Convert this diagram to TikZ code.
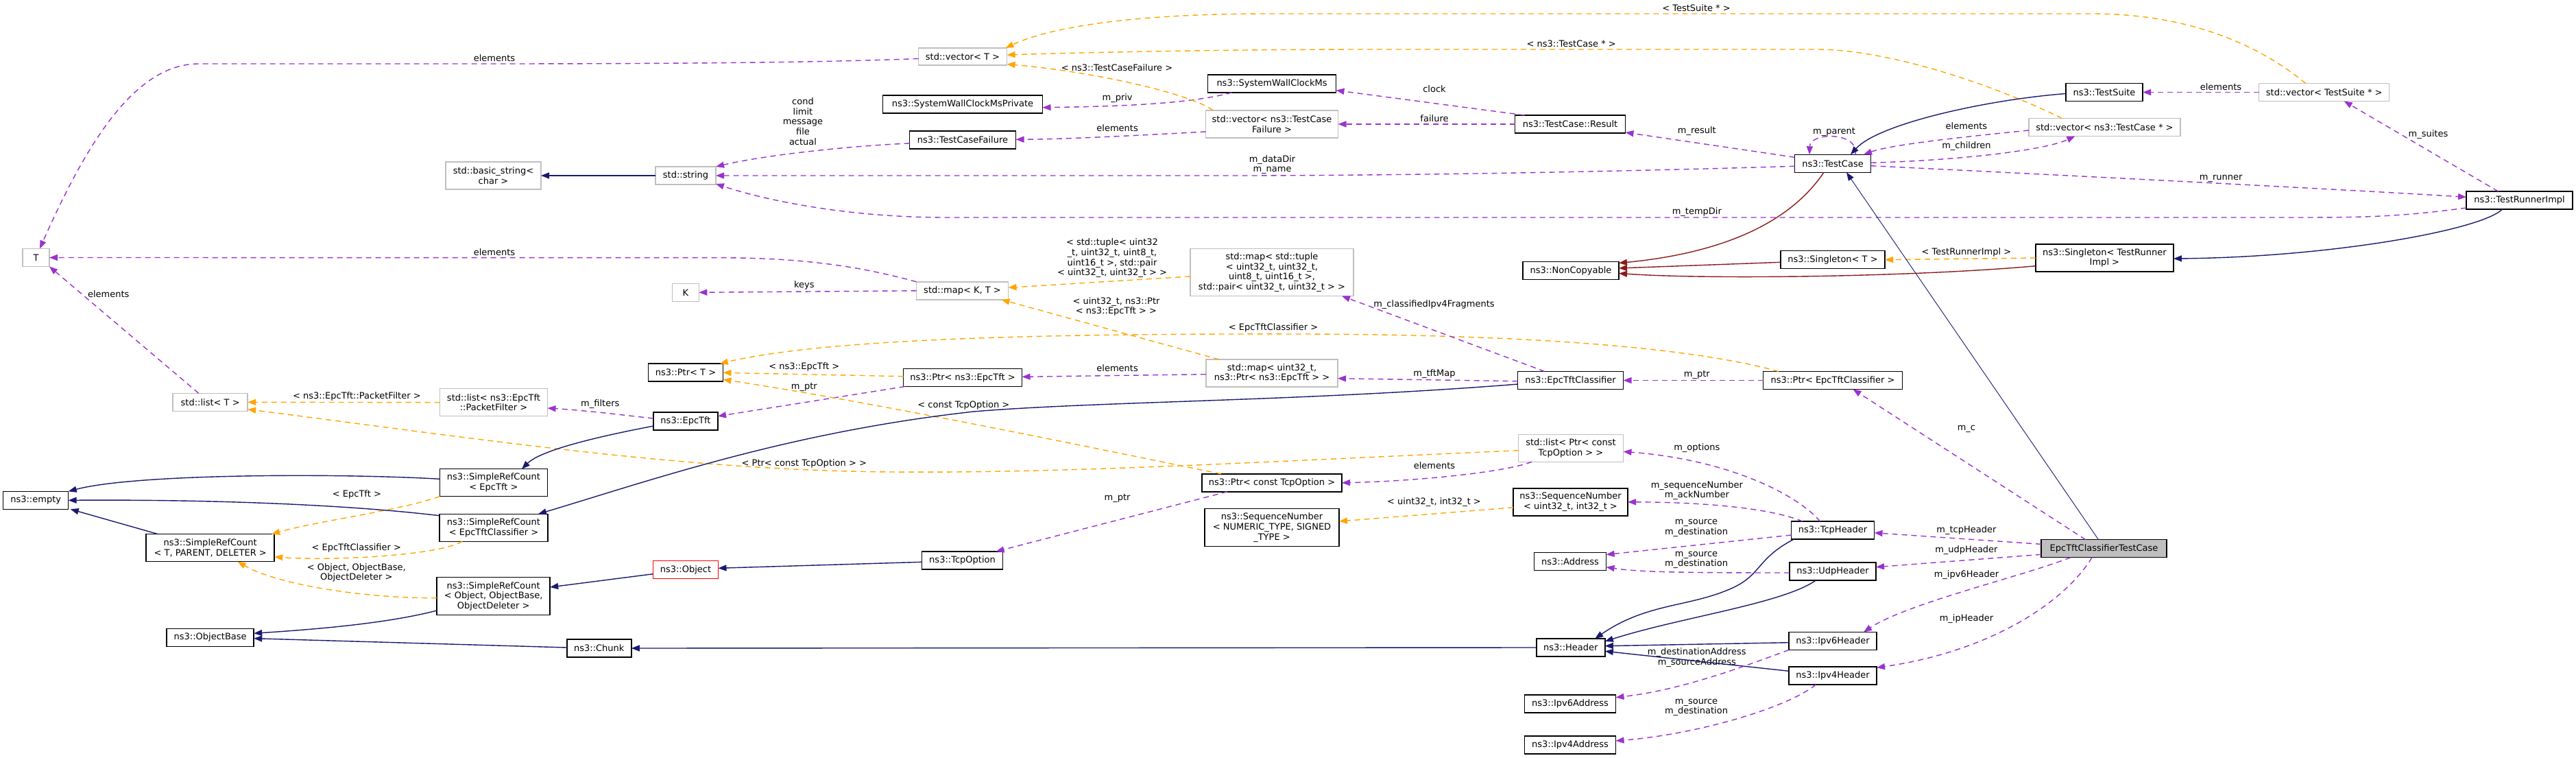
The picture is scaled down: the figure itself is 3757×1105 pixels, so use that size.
\documentclass[tikz,border=0pt]{standalone}
\usepackage{fontspec}
\setmainfont{DejaVu Sans}
\usetikzlibrary{arrows.meta}
\definecolor{usecol}{HTML}{9A32CD}
\definecolor{tplcol}{HTML}{FFA500}
\definecolor{inhcol}{HTML}{191970}
\definecolor{privcol}{HTML}{8B1A1A}
\definecolor{graybd}{HTML}{BFBFBF}
\tikzset{
  every node/.style={font=\fontsize{13pt}{14.75pt}\selectfont, align=center, inner sep=0pt, outer sep=0pt},
  box/.style={draw=black, line width=1.5pt, fill=white, minimum height=26pt},
  gbox/.style={draw=graybd, line width=1.5pt, fill=white, minimum height=26pt},
  rbox/.style={draw=red, line width=1.5pt, fill=white, minimum height=26pt},
  usage/.style={draw=usecol, line width=1.4pt, dash pattern=on 8pt off 6pt, -{Triangle[length=12pt,width=9pt]}},
  tpl/.style={draw=tplcol, line width=1.4pt, dash pattern=on 8pt off 6pt, -{Triangle[length=12pt,width=9pt]}},
  inh/.style={draw=inhcol, line width=1.4pt, -{Triangle[length=12pt,width=9pt]}},
  priv/.style={draw=privcol, line width=1.4pt, -{Triangle[length=12pt,width=9pt]}}
}
\begin{document}
\begin{tikzpicture}[x=1pt,y=-1pt]
\useasboundingbox (0,0) rectangle (3757,1105);
% nodes
\node[gbox, minimum width=39pt] (T) at (52.5,375.5) {T};
\node[gbox, minimum width=139pt, minimum height=40pt] (basicstr) at (719.5,256) {std::basic\_string<\\char >};
\node[gbox, minimum width=129pt, minimum height=25pt] (vecT) at (1404,82.5) {std::vector< T >};
\node[box, minimum width=233pt] (swcmp) at (1404,152) {ns3::SystemWallClockMsPrivate};
\node[box, minimum width=155pt] (tcf) at (1404,204) {ns3::TestCaseFailure};
\node[gbox, minimum width=88pt] (stdstr) at (1000,256) {std::string};
\node[box, minimum width=187pt] (swcm) at (1855,122) {ns3::SystemWallClockMs};
\node[gbox, minimum width=193pt, minimum height=40pt] (vtcf) at (1855,181) {std::vector< ns3::TestCase\\Failure >};
\node[box, minimum width=161pt] (result) at (2290,181) {ns3::TestCase::Result};
\node[box, minimum width=111pt] (testcase) at (2673,238.3) {ns3::TestCase};
\node[box, minimum width=152pt] (singT) at (2673,378.7) {ns3::Singleton< T >};
\node[box, minimum width=140pt] (noncopy) at (2291,394.5) {ns3::NonCopyable};
\node[box, minimum width=112pt] (testsuite) at (3069,134.5) {ns3::TestSuite};
\node[gbox, minimum width=190pt] (vts) at (3389.7,134.5) {std::vector< TestSuite * >};
\node[gbox, minimum width=221pt] (vtc) at (3069.4,185.5) {std::vector< ns3::TestCase * >};
\node[box, minimum width=155pt] (runner) at (3674.5,292) {ns3::TestRunnerImpl};
\node[box, minimum width=201pt, minimum height=40pt] (singTRI) at (3069.4,376) {ns3::Singleton< TestRunner\\Impl >};
\node[gbox, minimum width=109pt] (listT) at (306.7,586.3) {std::list< T >};
\node[gbox, minimum width=157pt, minimum height=40pt] (listPF) at (720,586.7) {std::list< ns3::EpcTft\\::PacketFilter >};
\node[box, minimum width=157pt, minimum height=40pt] (srcEpcTft) at (720,703.7) {ns3::SimpleRefCount\\< EpcTft >};
\node[box, minimum width=95pt] (empty) at (52.2,729.3) {ns3::empty};
\node[gbox, minimum width=39pt] (K) at (999.8,426.3) {K};
\node[gbox, minimum width=134pt] (mapKT) at (1403.5,423.8) {std::map< K, T >};
\node[gbox, minimum width=238pt, minimum height=69pt] (mapTuple) at (1855,397) {std::map< std::tuple\\< uint32\_t, uint32\_t,\\uint8\_t, uint16\_t >,\\std::pair< uint32\_t, uint32\_t > >};
\node[box, minimum width=109pt] (ptrT) at (1000,543) {ns3::Ptr< T >};
\node[box, minimum width=173pt] (ptrEpcTft) at (1404,550.5) {ns3::Ptr< ns3::EpcTft >};
\node[gbox, minimum width=192pt, minimum height=40pt] (mapU) at (1855,544) {std::map< uint32\_t,\\ns3::Ptr< ns3::EpcTft > >};
\node[box, minimum width=94pt] (epctft) at (1000,614) {ns3::EpcTft};
\node[box, minimum width=204pt] (ptrTcp) at (1855,703.8) {ns3::Ptr< const TcpOption >};
\node[box, minimum width=154pt] (classifier) at (2290.5,554.5) {ns3::EpcTftClassifier};
\node[box, minimum width=203pt] (ptrCls) at (2673,554.5) {ns3::Ptr< EpcTftClassifier >};
\node[gbox, minimum width=153pt, minimum height=40pt] (listTcp) at (2291,653.3) {std::list< Ptr< const\\TcpOption > >};
\node[box, minimum width=167pt, minimum height=40pt] (seqU) at (2290.5,731.8) {ns3::SequenceNumber\\< uint32\_t, int32\_t >};
\node[box, minimum width=196pt, minimum height=55pt] (seqN) at (1855,769) {ns3::SequenceNumber\\< NUMERIC\_TYPE, SIGNED\\\_TYPE >};
\node[box, minimum width=118pt] (tcpopt) at (1403.5,817) {ns3::TcpOption};
\node[rbox, minimum width=95pt] (object) at (1000,830.5) {ns3::Object};
\node[box, minimum width=94pt] (chunk) at (873.8,945) {ns3::Chunk};
\node[box, minimum width=158pt, minimum height=40pt] (srcCls) at (720,769.3) {ns3::SimpleRefCount\\< EpcTftClassifier >};
\node[box, minimum width=187pt, minimum height=40pt] (srcT) at (306.7,798.7) {ns3::SimpleRefCount\\< T, PARENT, DELETER >};
\node[box, minimum width=165pt, minimum height=55pt] (srcObj) at (719.7,869.2) {ns3::SimpleRefCount\\< Object, ObjectBase,\\ObjectDeleter >};
\node[box, minimum width=127pt] (objbase) at (306.7,929.3) {ns3::ObjectBase};
\node[box, minimum width=121pt] (tcph) at (2673,773) {ns3::TcpHeader};
\node[box, minimum width=105pt] (address) at (2290,818.5) {ns3::Address};
\node[box, minimum width=126pt] (udph) at (2673,833) {ns3::UdpHeader};
\node[box, minimum width=100pt] (header) at (2290.8,944) {ns3::Header};
\node[box, minimum width=128pt] (ipv6h) at (2673,934.5) {ns3::Ipv6Header};
\node[box, minimum width=128pt] (ipv4h) at (2673,985) {ns3::Ipv4Header};
\node[box, minimum width=133pt] (ipv6a) at (2290,1026) {ns3::Ipv6Address};
\node[box, minimum width=133pt] (ipv4a) at (2290,1086) {ns3::Ipv4Address};
\node[box, fill=graybd, minimum width=183pt] (ectc) at (3068.5,799.7) {EpcTftClassifierTestCase};
% labels
\node (l1) at (721,85) {elements};
\node (l2) at (721,368) {elements};
\node (l3) at (158.3,429) {elements};
\node (l4) at (1171,177) {cond\\limit\\message\\file\\actual};
\node (l5) at (1629,99) {< ns3::TestCaseFailure >};
\node (l6) at (1629.6,142.7) {m\_priv};
\node (l7) at (1629.6,187) {elements};
\node (l8) at (1855.5,240) {m\_dataDir\\m\_name};
\node (l9) at (2474.8,309) {m\_tempDir};
\node (l10) at (2474,11.7) {< TestSuite * >};
\node (l11) at (2291.7,63.3) {< ns3::TestCase * >};
\node (l12) at (2092,130) {clock};
\node (l13) at (2092,172.7) {failure};
\node (l14) at (2474.8,190.7) {m\_result};
\node (l15) at (2675,192.7) {m\_parent};
\node (l16) at (3239,126.7) {elements};
\node (l17) at (2867.9,183.3) {elements};
\node (l18) at (2867.9,212.7) {m\_children};
\node (l19) at (3541.4,196) {m\_suites};
\node (l20) at (3239.2,260) {m\_runner};
\node (l21) at (2867.9,368.3) {< TestRunnerImpl >};
\node (l22) at (2867.9,625) {m\_c};
\node (l23) at (520.4,578.3) {< ns3::EpcTft::PacketFilter >};
\node (l24) at (875.3,589) {m\_filters};
\node (l25) at (520.4,720.7) {< EpcTft >};
\node (l26) at (1172.8,415.7) {keys};
\node (l27) at (1622,376.4) {< std::tuple< uint32\\\_t, uint32\_t, uint8\_t,\\uint16\_t >, std::pair\\< uint32\_t, uint32\_t > >};
\node (l28) at (1628,447) {< uint32\_t, ns3::Ptr\\< ns3::EpcTft > >};
\node (l29) at (1857,478.3) {< EpcTftClassifier >};
\node (l30) at (1172.8,535) {< ns3::EpcTft >};
\node (l31) at (1172.8,564) {m\_ptr};
\node (l32) at (1629.6,536.7) {elements};
\node (l33) at (1405.4,590.7) {< const TcpOption >};
\node (l34) at (1172.8,675.7) {< Ptr< const TcpOption > >};
\node (l35) at (1629.6,726.7) {m\_ptr};
\node (l36) at (2091.5,443.7) {m\_classifiedIpv4Fragments};
\node (l37) at (2092,545.3) {m\_tftMap};
\node (l38) at (2474.8,546.7) {m\_ptr};
\node (l39) at (2474.8,652.7) {m\_options};
\node (l40) at (2092,678.3) {elements};
\node (l41) at (2474.8,715) {m\_sequenceNumber\\m\_ackNumber};
\node (l42) at (2091.5,732.3) {< uint32\_t, int32\_t >};
\node (l43) at (2474,770) {m\_source\\m\_destination};
\node (l44) at (2474,816.3) {m\_source\\m\_destination};
\node (l45) at (2474.8,958.8) {m\_destinationAddress\\m\_sourceAddress};
\node (l46) at (2474,1031.3) {m\_source\\m\_destination};
\node (l47) at (2867.9,772.7) {m\_tcpHeader};
\node (l48) at (2867.9,802.3) {m\_udpHeader};
\node (l49) at (2867.9,838.3) {m\_ipv6Header};
\node (l50) at (2867.9,902.3) {m\_ipHeader};
\node (l51) at (519.8,799.3) {< EpcTftClassifier >};
\node (l52) at (519.8,835) {< Object, ObjectBase,\\ObjectDeleter >};
% edges
\draw[usage] ([yshift=-3pt]vecT.west) .. controls (1200,91) and (1000,93) .. (700,93) -- (290,93) .. controls (200,93) and (130,200) .. ([xshift=5.5pt]T.north);
\draw[inh] (stdstr.west) -- (basicstr.east);
\draw[usage] ([yshift=-5pt]tcf.west) .. controls (1250,212) and (1120,225) .. (stdstr.north east);
\draw[usage] ([yshift=-4pt]testcase.west) .. controls (2300,252) and (2000,256) .. (1800,256) -- (stdstr.east);
\draw[usage] ([yshift=-11pt]runner.west) .. controls (3500,316) and (3450,317) .. (3350,317) -- (1380,317) .. controls (1230,317) and (1110,290) .. ([yshift=-12pt]stdstr.east);
\draw[usage] ([xshift=35pt]swcm.south west) .. controls (1740,150) and (1650,155) .. ([yshift=-4.7pt]swcmp.east);
\draw[usage] ([yshift=-11pt]vtcf.west) .. controls (1650,198) and (1550,203) .. ([yshift=0.7pt]tcf.east);
\draw[tpl] ([xshift=-86pt]vtcf.north) .. controls (1740,138) and (1600,105) .. ([yshift=1.5pt]vecT.south east);
\draw[tpl] ([xshift=-62pt]vtc.north) .. controls (2900,120) and (2750,72) .. (2650,72) -- (2000,72) .. controls (1800,72) and (1600,76) .. ([yshift=2.5pt]vecT.east);
\draw[tpl] ([xshift=-27pt]vts.north) .. controls (3300,70) and (3200,20) .. (3050,20) -- (1850,20) .. controls (1650,20) and (1530,40) .. ([xshift=-2pt]vecT.north east);
\draw[usage] ([xshift=14pt]result.north west) -- ([yshift=-9.7pt]swcm.east);
\draw[usage] (result.west) -- (vtcf.east);
\draw[usage] ([yshift=9pt]testcase.west) -- ([yshift=1pt]result.south east);
\draw[usage] ([xshift=33pt]testcase.north) .. controls (2712,192) and (2640,192) .. ([xshift=-34pt]testcase.north);
\draw[inh] ([yshift=-2pt]testsuite.west) .. controls (2900,145) and (2740,180) .. ([xshift=26pt]testcase.north);
\draw[usage] ([yshift=-4.5pt]vtc.west) .. controls (2880,198) and (2760,210) .. ([xshift=45pt]testcase.north);
\draw[usage] ([yshift=1pt]testcase.east) .. controls (2850,234) and (2980,220) .. ([xshift=-43pt]vtc.south);
\draw[usage] ([yshift=-3.4pt]testcase.east) .. controls (2900,250) and (3400,275) .. ([yshift=4.7pt]runner.west);
\draw[usage] (vts.west) -- (testsuite.east);
\draw[usage] ([xshift=-31pt]runner.north) -- ([xshift=29pt]vts.south);
\draw[inh] ([xshift=-25pt]runner.south) .. controls (3620,335) and (3400,375) .. ([yshift=-1pt]singTRI.east);
\draw[tpl] (singTRI.west) -- (singT.east);
\draw[priv] ([yshift=-3.6pt]singT.west) -- ([yshift=3.5pt]noncopy.east);
\draw[priv] ([xshift=-13pt]testcase.south) .. controls (2600,340) and (2480,372) .. ([yshift=11pt]noncopy.east);
\draw[priv] ([yshift=-11.7pt]singTRI.west) .. controls (2800,403) and (2500,408) .. ([yshift=-4pt]noncopy.east);
\draw[inh, line width=0.9pt] ([xshift=-8pt]ectc.north) -- ([xshift=20pt]testcase.south);
\draw[usage] (mapKT.north west) .. controls (1260,390) and (1180,376) .. (1050,375.7) -- (T.east);
\draw[usage] (mapKT.west) -- (K.east);
\draw[tpl] ([yshift=-6pt]mapTuple.west) -- ([yshift=4.5pt]mapKT.east);
\draw[tpl] ([xshift=-77pt]mapU.north) -- ([xshift=-10pt]mapKT.south east);
\draw[usage] ([xshift=-17pt]listT.north) -- (T.south east);
\draw[tpl] (listPF.west) -- (listT.east);
\draw[tpl] ([yshift=-3.4pt]listTcp.west) .. controls (1800,675) and (1550,690) .. (1300,688) .. controls (1000,686) and (700,640) .. ([yshift=-10.4pt]listT.east);
\draw[usage] ([yshift=4pt]epctft.west) .. controls (900,604) and (850,598) .. ([yshift=-8.3pt]listPF.east);
\draw[inh] ([yshift=-7pt]epctft.west) .. controls (880,635) and (790,655) .. ([xshift=41pt]srcEpcTft.north);
\draw[tpl] ([yshift=1.8pt]ptrEpcTft.west) -- ([yshift=-0.3pt]ptrT.east);
\draw[usage] ([xshift=2pt]ptrEpcTft.south west) -- ([yshift=7.3pt]epctft.east);
\draw[usage] ([yshift=-1.7pt]mapU.west) -- ([yshift=1.2pt]ptrEpcTft.east);
\draw[tpl] ([xshift=-79pt]ptrCls.north) .. controls (2500,515) and (2300,488) .. (1900,487) .. controls (1500,486) and (1200,495) .. ([xshift=-4.8pt]ptrT.north east);
\draw[tpl] ([xshift=-74pt]ptrTcp.north) .. controls (1700,675) and (1300,590) .. ([yshift=-10.3pt]ptrT.east);
\draw[usage] ([yshift=-1.2pt]classifier.west) -- ([yshift=-7.7pt]mapU.east);
\draw[usage] ([xshift=-37.7pt]classifier.north) -- ([xshift=-17pt]mapTuple.south east);
\draw[usage] (ptrCls.west) -- (classifier.east);
\draw[inh] ([yshift=-5.5pt]classifier.west) .. controls (1900,585) and (1600,585) .. (1420,600) .. controls (1150,630) and (950,700) .. ([xshift=65pt]srcCls.north);
\draw[tpl] (srcEpcTft.south west) .. controls (580,745) and (460,760) .. ([xshift=-4pt]srcT.north east);
\draw[tpl] ([xshift=-46pt]srcCls.south) .. controls (640,810) and (480,818) .. ([yshift=-13pt]srcT.east);
\draw[tpl] ([yshift=-2.5pt]srcObj.west) .. controls (520,872) and (400,850) .. ([xshift=40pt]srcT.south);
\draw[inh] ([yshift=5.4pt]srcEpcTft.west) .. controls (500,690) and (200,690) .. (empty.north east);
\draw[inh] ([yshift=17.6pt]srcCls.west) .. controls (500,735) and (300,728) .. (empty.east);
\draw[inh] ([xshift=-76pt]srcT.north) -- ([xshift=3pt]empty.south east);
\draw[inh] ([yshift=-20.8pt]srcObj.west) .. controls (560,910) and (450,918) .. ([yshift=6pt]objbase.east);
\draw[inh] ([yshift=-6.2pt]object.west) -- ([yshift=13.2pt]srcObj.east);
\draw[inh] ([yshift=-2.3pt]tcpopt.west) -- ([yshift=2.2pt]object.east);
\draw[inh] ([yshift=1pt]chunk.west) -- ([yshift=-1.4pt]objbase.east);
\draw[inh] (header.west) -- (chunk.east);
\draw[inh] ([xshift=4pt]tcph.south west) .. controls (2560,815) and (2570,840) .. (2520,860) .. controls (2460,885) and (2400,880) .. ([xshift=35.4pt]header.north);
\draw[inh] ([xshift=-24.7pt]udph.south) .. controls (2600,880) and (2450,900) .. ([yshift=9pt]header.east);
\draw[inh] ([yshift=-2.2pt]ipv6h.west) -- ([yshift=2.3pt]header.east);
\draw[inh] ([yshift=6.7pt]ipv4h.west) -- ([yshift=-5.3pt]header.east);
\draw[usage] ([xshift=-44pt]tcph.north) .. controls (2580,740) and (2480,732) .. (seqU.east);
\draw[usage] ([xshift=-18.4pt]tcph.north) .. controls (2620,720) and (2520,670) .. ([yshift=-5pt]listTcp.east);
\draw[usage] ([yshift=-7pt]tcph.west) -- ([yshift=10pt]address.east);
\draw[usage] ([yshift=-2pt]udph.west) .. controls (2450,835) and (2390,834) .. ([yshift=-8.2pt]address.east);
\draw[usage] (ipv6h.south west) .. controls (2560,965) and (2460,1005) .. ([yshift=9.3pt]ipv6a.east);
\draw[usage] ([xshift=-24.7pt]ipv4h.south) .. controls (2610,1030) and (2480,1070) .. ([yshift=6pt]ipv4a.east);
\draw[tpl] ([yshift=-8pt]seqU.west) -- ([yshift=9pt]seqN.east);
\draw[usage] ([xshift=-57pt]listTcp.south) .. controls (2190,690) and (2050,702) .. (ptrTcp.east);
\draw[usage] ([xshift=-65pt]ptrTcp.south) -- ([xshift=-10pt]tcpopt.north east);
\draw[usage] ([yshift=6.4pt]ectc.west) -- ([yshift=-3.7pt]tcph.east);
\draw[usage] ([yshift=-8.6pt]ectc.west) -- ([yshift=6.3pt]udph.east);
\draw[usage] ([xshift=-48.6pt]ectc.south) .. controls (2950,840) and (2780,880) .. ([xshift=45pt]ipv6h.north);
\draw[usage] ([xshift=-17.5pt]ectc.south) .. controls (3010,880) and (2900,950) .. ([yshift=11.7pt]ipv4h.east);
\draw[usage] ([xshift=-26.8pt]ectc.north) -- ([xshift=29.5pt]ptrCls.south);
\end{tikzpicture}
\end{document}
